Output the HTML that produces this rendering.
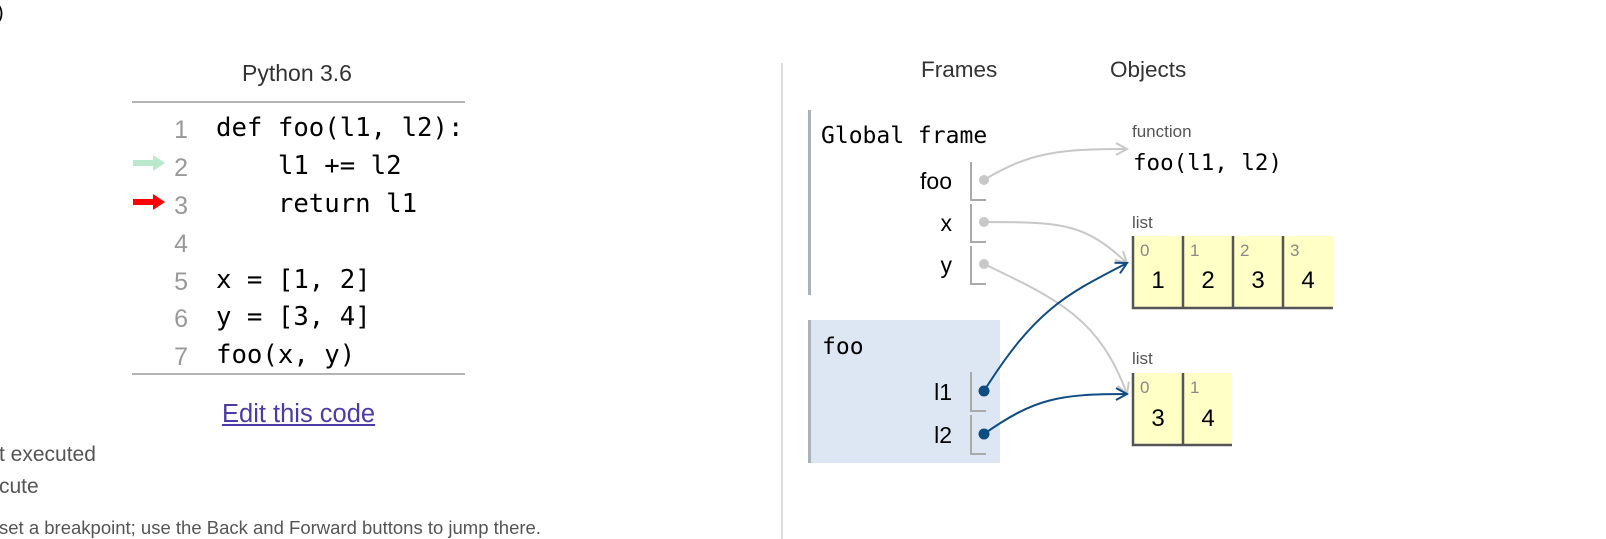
<!DOCTYPE html>
<html><head><meta charset="utf-8"><style>
body{margin:0;width:1606px;height:539px;overflow:hidden;background:#fff;position:relative;font-family:"Liberation Sans",sans-serif}
.a{position:absolute;white-space:pre;line-height:1}
.mono{font-family:"DejaVu Sans Mono","Liberation Mono",monospace}
.ln{position:absolute;width:40px;left:148px;text-align:right;color:#999;font-size:25px;line-height:1}
.code{position:absolute;left:216px;font-size:25.7px;color:#000;line-height:1;white-space:pre}
</style></head><body>
<div class="a" style="left:-3px;top:3px;font-size:20px">)</div>
<div class="a" style="left:242px;top:62px;font-size:23px;color:#333">Python 3.6</div>
<div style="position:absolute;left:132px;top:101px;width:333px;height:2px;background:#b4b4b4"></div>
<div style="position:absolute;left:132px;top:373px;width:333px;height:2px;background:#b4b4b4"></div>

<div class="ln" style="top:118px">1</div><div class="code mono" style="top:116px">def foo(l1, l2):</div>
<div class="ln" style="top:156px">2</div><div class="code mono" style="top:154px">    l1 += l2</div>
<div class="ln" style="top:194px">3</div><div class="code mono" style="top:192px">    return l1</div>
<div class="ln" style="top:232px">4</div>
<div class="ln" style="top:270px">5</div><div class="code mono" style="top:268px">x = [1, 2]</div>
<div class="ln" style="top:307px">6</div><div class="code mono" style="top:305px">y = [3, 4]</div>
<div class="ln" style="top:345px">7</div><div class="code mono" style="top:343px">foo(x, y)</div>

<svg style="position:absolute;left:0;top:0" width="1606" height="539">
<polygon points="133,160 153,160 153,155 165,163 153,171 153,166 133,166" fill="#b9e8cc"/>
<polygon points="133,199 153,199 153,194 165,202 153,210 153,205 133,205" fill="#ff0000"/>
</svg>

<div class="a" style="left:222px;top:402px;font-size:25.5px;color:#4b3ba6;text-decoration:underline">Edit this code</div>
<div class="a" style="left:-1px;top:444px;font-size:21px;color:#555">t executed</div>
<div class="a" style="left:-1px;top:476px;font-size:21px;color:#555">cute</div>
<div class="a" style="left:-1px;top:519px;font-size:18.5px;color:#555">set a breakpoint; use the Back and Forward buttons to jump there.</div>

<div style="position:absolute;left:781px;top:63px;width:2px;height:476px;background:#ddd"></div>
<div class="a" style="left:921px;top:59px;font-size:22.5px;color:#333">Frames</div>
<div class="a" style="left:1110px;top:59px;font-size:22.5px;color:#333">Objects</div>

<div style="position:absolute;left:808px;top:110px;width:3px;height:185px;background:#a9b2b8"></div>
<div class="a mono" style="left:821px;top:125px;font-size:23px">Global frame</div>
<div class="a" style="left:900px;width:52px;text-align:right;top:170px;font-size:23px">foo</div>
<div class="a" style="left:900px;width:52px;text-align:right;top:212px;font-size:23px">x</div>
<div class="a" style="left:900px;width:52px;text-align:right;top:254px;font-size:23px">y</div>

<div style="position:absolute;left:808px;top:320px;width:192px;height:143px;background:#dde7f4;border-left:3px solid #a9b2b8;box-sizing:border-box"></div>
<div class="a mono" style="left:822px;top:336px;font-size:23px">foo</div>
<div class="a" style="left:900px;width:52px;text-align:right;top:381px;font-size:23px">l1</div>
<div class="a" style="left:900px;width:52px;text-align:right;top:424px;font-size:23px">l2</div>

<div class="a" style="left:1132px;top:123px;font-size:17px;color:#555">function</div>
<div class="a mono" style="left:1133px;top:152px;font-size:22.5px">foo(l1, l2)</div>
<div class="a" style="left:1132px;top:214px;font-size:17px;color:#555">list</div>
<div class="a" style="left:1132px;top:350px;font-size:17px;color:#555">list</div>

<svg style="position:absolute;left:0;top:0" width="1606" height="539">
<defs>
<marker id="g" markerWidth="14" markerHeight="14" refX="12" refY="7" orient="auto" markerUnits="userSpaceOnUse"><polyline points="1,1 12,7 1,13" fill="none" stroke="#c8c8c8" stroke-width="2"/></marker>
<marker id="b" markerWidth="14" markerHeight="14" refX="12" refY="7" orient="auto" markerUnits="userSpaceOnUse"><polyline points="1,1 12,7 1,13" fill="none" stroke="#0f4c81" stroke-width="2"/></marker>
</defs>
<g stroke="#aaa" stroke-width="2" fill="none">
<polyline points="971,162 971,200 986,200"/>
<polyline points="971,204 971,242 986,242"/>
<polyline points="971,246 971,284 986,284"/>
<polyline points="971,372 971,411 986,411"/>
<polyline points="971,415 971,454 986,454"/>
</g>
<g fill="#ffffc6"><rect x="1132" y="236" width="201" height="72"/><rect x="1132" y="373" width="100" height="72"/></g>
<g stroke="#555" stroke-width="2.5" fill="none">
<polyline points="1133,236 1133,308 1333,308"/>
<line x1="1183" y1="236" x2="1183" y2="308"/><line x1="1233" y1="236" x2="1233" y2="308"/><line x1="1283" y1="236" x2="1283" y2="308"/>
<polyline points="1133,373 1133,445 1232,445"/>
<line x1="1183" y1="373" x2="1183" y2="445"/>
</g>
<g font-family="Liberation Sans,sans-serif" font-size="17" fill="#888">
<text x="1140" y="256">0</text><text x="1190" y="256">1</text><text x="1240" y="256">2</text><text x="1290" y="256">3</text>
<text x="1140" y="393">0</text><text x="1190" y="393">1</text>
</g>
<g font-family="Liberation Sans,sans-serif" font-size="24" fill="#000" text-anchor="middle">
<text x="1158" y="288">1</text><text x="1208" y="288">2</text><text x="1258" y="288">3</text><text x="1308" y="288">4</text>
<text x="1158" y="426">3</text><text x="1208" y="426">4</text>
</g>
<g fill="none" stroke-width="2">
<path d="M984,180 C1030,152 1060,149 1127,149" stroke="#c8c8c8" marker-end="url(#g)"/>
<path d="M984,222 C1065,222 1085,224 1127,263" stroke="#c8c8c8" marker-end="url(#g)"/>
<path d="M984,264 C1060,300 1100,320 1127,394" stroke="#c8c8c8" marker-end="url(#g)"/>
<path d="M984,391 C1035,310 1065,295 1127,263" stroke="#0f4c81" marker-end="url(#b)"/>
<path d="M984,434 C1035,398 1060,394 1127,394" stroke="#0f4c81" marker-end="url(#b)"/>
</g>
<g fill="#c8c8c8"><circle cx="984" cy="180" r="5"/><circle cx="984" cy="222" r="5"/><circle cx="984" cy="264" r="5"/></g>
<g fill="#0f4c81"><circle cx="984" cy="391" r="5.5"/><circle cx="984" cy="434" r="5.5"/></g>
</svg>
</body></html>
